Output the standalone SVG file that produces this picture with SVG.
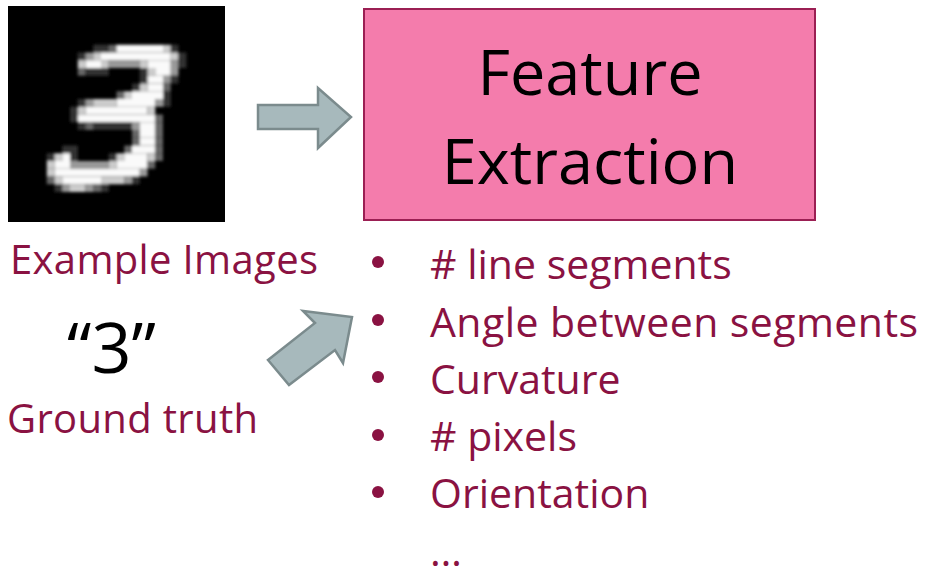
<svg xmlns="http://www.w3.org/2000/svg" width="925" height="571" viewBox="0 0 925 571">
<style>
.p1{fill:#333333}.p2{fill:#666666}.p3{fill:#999999}.p4{fill:#cccccc}.p5{fill:#fafafa}
.lbl{font-family:"Open Sans","Noto Sans","Liberation Sans",sans-serif;fill:#8a1242}
.arrow{fill:#a7b9bc;stroke:#7b8b8d;stroke-width:2.5;stroke-linejoin:miter}
.box{fill:#f47cac;stroke:#9b1f53;stroke-width:2}
.big{font-family:"Open Sans","Noto Sans","Liberation Sans",sans-serif;fill:#000000;font-size:63px;text-anchor:middle}
.item{font-size:41px}
</style>
<defs>
<filter id="soft" x="-5%" y="-5%" width="110%" height="110%"><feGaussianBlur stdDeviation="0.18"/></filter>
</defs>
<g id="example-image">
<rect x="8" y="6" width="217" height="216" fill="#000000"/>
<g transform="translate(8,6) scale(7.75)" filter="url(#soft)">
<rect class="p1" x="11" y="5" width="2" height="1"/><rect class="p2" x="13" y="5" width="1" height="1"/><rect class="p5" x="14" y="5" width="6" height="1"/><rect class="p4" x="20" y="5" width="1" height="1"/><rect class="p1" x="21" y="5" width="1" height="1"/>
<rect class="p1" x="9" y="6" width="1" height="1"/><rect class="p3" x="10" y="6" width="1" height="1"/><rect class="p4" x="11" y="6" width="1" height="1"/><rect class="p5" x="12" y="6" width="9" height="1"/><rect class="p4" x="21" y="6" width="1" height="1"/><rect class="p1" x="22" y="6" width="1" height="1"/>
<rect class="p4" x="9" y="7" width="1" height="1"/><rect class="p5" x="10" y="7" width="2" height="1"/><rect class="p4" x="12" y="7" width="1" height="1"/><rect class="p3" x="13" y="7" width="4" height="1"/><rect class="p4" x="17" y="7" width="1" height="1"/><rect class="p5" x="18" y="7" width="3" height="1"/><rect class="p3" x="21" y="7" width="1" height="1"/><rect class="p1" x="22" y="7" width="1" height="1"/>
<rect class="p2" x="9" y="8" width="1" height="1"/><rect class="p1" x="10" y="8" width="3" height="1"/><rect class="p1" x="17" y="8" width="1" height="1"/><rect class="p4" x="18" y="8" width="1" height="1"/><rect class="p5" x="19" y="8" width="2" height="1"/><rect class="p3" x="21" y="8" width="1" height="1"/>
<rect class="p1" x="17" y="9" width="1" height="1"/><rect class="p5" x="18" y="9" width="2" height="1"/><rect class="p3" x="20" y="9" width="1" height="1"/><rect class="p1" x="21" y="9" width="1" height="1"/>
<rect class="p1" x="16" y="10" width="1" height="1"/><rect class="p4" x="17" y="10" width="1" height="1"/><rect class="p5" x="18" y="10" width="2" height="1"/><rect class="p2" x="20" y="10" width="1" height="1"/>
<rect class="p2" x="14" y="11" width="1" height="1"/><rect class="p4" x="15" y="11" width="1" height="1"/><rect class="p5" x="16" y="11" width="4" height="1"/><rect class="p1" x="20" y="11" width="1" height="1"/>
<rect class="p1" x="9" y="12" width="1" height="1"/><rect class="p3" x="10" y="12" width="1" height="1"/><rect class="p4" x="11" y="12" width="3" height="1"/><rect class="p5" x="14" y="12" width="5" height="1"/><rect class="p3" x="19" y="12" width="1" height="1"/><rect class="p1" x="20" y="12" width="1" height="1"/>
<rect class="p1" x="8" y="13" width="1" height="1"/><rect class="p4" x="9" y="13" width="1" height="1"/><rect class="p5" x="10" y="13" width="8" height="1"/><rect class="p4" x="18" y="13" width="1" height="1"/>
<rect class="p1" x="8" y="14" width="1" height="1"/><rect class="p5" x="9" y="14" width="10" height="1"/><rect class="p2" x="19" y="14" width="1" height="1"/>
<rect class="p1" x="9" y="15" width="1" height="1"/><rect class="p2" x="10" y="15" width="1" height="1"/><rect class="p1" x="11" y="15" width="5" height="1"/><rect class="p3" x="16" y="15" width="1" height="1"/><rect class="p5" x="17" y="15" width="2" height="1"/><rect class="p2" x="19" y="15" width="1" height="1"/>
<rect class="p2" x="16" y="16" width="1" height="1"/><rect class="p5" x="17" y="16" width="2" height="1"/><rect class="p2" x="19" y="16" width="1" height="1"/>
<rect class="p2" x="16" y="17" width="1" height="1"/><rect class="p5" x="17" y="17" width="2" height="1"/><rect class="p2" x="19" y="17" width="1" height="1"/>
<rect class="p1" x="7" y="18" width="2" height="1"/><rect class="p2" x="15" y="18" width="1" height="1"/><rect class="p5" x="16" y="18" width="3" height="1"/><rect class="p2" x="19" y="18" width="1" height="1"/>
<rect class="p1" x="5" y="19" width="1" height="1"/><rect class="p4" x="6" y="19" width="1" height="1"/><rect class="p5" x="7" y="19" width="1" height="1"/><rect class="p1" x="8" y="19" width="1" height="1"/><rect class="p1" x="13" y="19" width="1" height="1"/><rect class="p4" x="14" y="19" width="1" height="1"/><rect class="p5" x="15" y="19" width="3" height="1"/><rect class="p4" x="18" y="19" width="1" height="1"/><rect class="p2" x="19" y="19" width="1" height="1"/>
<rect class="p4" x="5" y="20" width="1" height="1"/><rect class="p5" x="6" y="20" width="2" height="1"/><rect class="p3" x="8" y="20" width="5" height="1"/><rect class="p4" x="13" y="20" width="1" height="1"/><rect class="p5" x="14" y="20" width="4" height="1"/><rect class="p2" x="18" y="20" width="1" height="1"/>
<rect class="p4" x="5" y="21" width="1" height="1"/><rect class="p5" x="6" y="21" width="11" height="1"/><rect class="p3" x="17" y="21" width="1" height="1"/>
<rect class="p2" x="5" y="22" width="1" height="1"/><rect class="p4" x="6" y="22" width="1" height="1"/><rect class="p5" x="7" y="22" width="5" height="1"/><rect class="p4" x="12" y="22" width="3" height="1"/><rect class="p3" x="15" y="22" width="1" height="1"/><rect class="p1" x="16" y="22" width="1" height="1"/>
<rect class="p1" x="6" y="23" width="1" height="1"/><rect class="p3" x="7" y="23" width="1" height="1"/><rect class="p4" x="8" y="23" width="2" height="1"/><rect class="p3" x="10" y="23" width="1" height="1"/><rect class="p2" x="11" y="23" width="1" height="1"/><rect class="p1" x="12" y="23" width="1" height="1"/>
</g>
<text class="lbl" x="10" y="274" font-size="40" textLength="308">Example Images</text>
</g>
<g id="ground-truth">
<text x="67" y="373" font-family="'Open Sans','Noto Sans','Liberation Sans',sans-serif" font-size="70" fill="#000000">“3”</text>
<text class="lbl" x="7" y="433" font-size="40" textLength="251">Ground truth</text>
</g>
<g id="feature-extraction">
<rect class="box" x="364" y="9" width="451" height="211"/>
<text class="big" x="590" y="95">Feature</text>
<text class="big" x="590" y="184">Extraction</text>
</g>
<g id="features">
<g fill="#8a1242">
<circle cx="378" cy="262" r="6"/>
<circle cx="378" cy="320" r="6"/>
<circle cx="378" cy="377" r="6"/>
<circle cx="378" cy="435" r="6"/>
<circle cx="378" cy="492" r="6"/>
</g>
<text class="lbl item" x="430" y="279"># line segments</text>
<text class="lbl item" x="430" y="337" textLength="488">Angle between segments</text>
<text class="lbl item" x="430" y="394">Curvature</text>
<text class="lbl item" x="430" y="451"># pixels</text>
<text class="lbl item" x="430" y="508">Orientation</text>
<text class="lbl item" x="430" y="566">…</text>
</g>
<g id="connectors">
<polygon class="arrow" points="258,105 318,105 318,88 351,117 318,148 318,129 258,129"/>
<polygon class="arrow" points="268,360 315,323 303,311 352,317 343,363 335,350 289,385"/>
</g>
</svg>
